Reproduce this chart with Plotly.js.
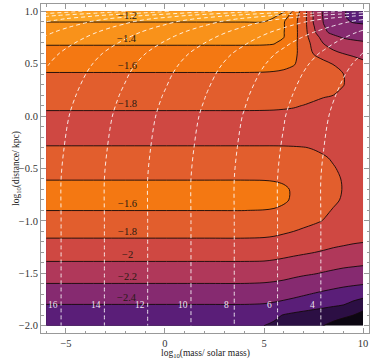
<!DOCTYPE html>
<html><head><meta charset="utf-8">
<script src="https://cdn.plot.ly/plotly-3.0.1.min.js"></script>
<style>html,body{margin:0;padding:0;background:#fff}#chart{width:374px;height:362px}</style>
</head><body><div id="chart"></div>
<script>
// log10(mass / solar mass) columns of the shaded field
const massLog = [-6, -2, 2, 4, 5, 5.5, 6, 6.5, 7, 7.5, 8, 8.5, 9, 9.5, 10];
// log10(distance / kpc) rows of the shaded field
const distLog = [-2.0, -1.9, -1.8, -1.7, -1.6, -1.5, -1.4, -1.3, -1.2, -1.1, -1.0, -0.9, -0.8, -0.7, -0.6, -0.5, -0.4, -0.3, -0.2, -0.1, 0.0, 0.1, 0.2, 0.3, 0.4, 0.5, 0.6, 0.7, 0.75, 0.8, 0.85, 0.9, 0.95, 1.0];
// shaded field values, one row per distLog entry
const fieldRows = [
  [-2.58,-2.58,-2.58,-2.58,-2.60,-2.63,-2.66,-2.69,-2.72,-2.76,-2.80,-2.84,-2.88,-2.93,-2.98],
  [-2.50,-2.50,-2.50,-2.50,-2.52,-2.56,-2.61,-2.64,-2.665,-2.69,-2.715,-2.745,-2.77,-2.80,-2.86],
  [-2.403,-2.403,-2.403,-2.403,-2.41,-2.425,-2.445,-2.47,-2.495,-2.52,-2.545,-2.57,-2.595,-2.65,-2.71],
  [-2.30,-2.30,-2.30,-2.30,-2.31,-2.32,-2.34,-2.36,-2.385,-2.41,-2.435,-2.46,-2.485,-2.51,-2.53],
  [-2.203,-2.203,-2.203,-2.203,-2.21,-2.22,-2.235,-2.26,-2.28,-2.30,-2.32,-2.34,-2.36,-2.375,-2.39],
  [-2.105,-2.105,-2.105,-2.105,-2.11,-2.12,-2.135,-2.155,-2.175,-2.19,-2.21,-2.23,-2.25,-2.265,-2.28],
  [-2.012,-2.012,-2.012,-2.012,-2.015,-2.025,-2.04,-2.06,-2.08,-2.10,-2.12,-2.135,-2.15,-2.16,-2.17],
  [-1.92,-1.92,-1.92,-1.92,-1.925,-1.935,-1.95,-1.965,-1.98,-1.997,-2.015,-2.035,-2.05,-2.065,-2.08],
  [-1.83,-1.83,-1.83,-1.83,-1.835,-1.845,-1.86,-1.875,-1.895,-1.915,-1.935,-1.955,-1.97,-1.985,-1.995],
  [-1.745,-1.745,-1.745,-1.745,-1.75,-1.76,-1.78,-1.80,-1.825,-1.85,-1.875,-1.90,-1.92,-1.94,-1.96],
  [-1.67,-1.67,-1.67,-1.67,-1.675,-1.685,-1.70,-1.725,-1.75,-1.775,-1.805,-1.84,-1.87,-1.895,-1.92],
  [-1.599,-1.599,-1.599,-1.599,-1.605,-1.615,-1.635,-1.665,-1.695,-1.73,-1.77,-1.81,-1.84,-1.87,-1.89],
  [-1.51,-1.51,-1.51,-1.51,-1.515,-1.535,-1.575,-1.625,-1.665,-1.70,-1.735,-1.775,-1.815,-1.85,-1.875],
  [-1.52,-1.52,-1.52,-1.52,-1.525,-1.54,-1.575,-1.62,-1.66,-1.695,-1.73,-1.77,-1.805,-1.845,-1.87],
  [-1.61,-1.61,-1.61,-1.61,-1.612,-1.618,-1.627,-1.64,-1.66,-1.69,-1.725,-1.77,-1.81,-1.845,-1.87],
  [-1.64,-1.64,-1.64,-1.64,-1.641,-1.645,-1.652,-1.665,-1.685,-1.715,-1.75,-1.79,-1.825,-1.85,-1.87],
  [-1.71,-1.71,-1.71,-1.71,-1.71,-1.712,-1.716,-1.725,-1.74,-1.76,-1.785,-1.815,-1.84,-1.86,-1.875],
  [-1.78,-1.78,-1.78,-1.78,-1.78,-1.78,-1.782,-1.787,-1.795,-1.81,-1.83,-1.85,-1.865,-1.875,-1.88],
  [-1.90,-1.90,-1.90,-1.90,-1.90,-1.90,-1.90,-1.90,-1.90,-1.898,-1.895,-1.892,-1.89,-1.887,-1.885],
  [-1.92,-1.92,-1.92,-1.92,-1.92,-1.92,-1.92,-1.918,-1.915,-1.91,-1.905,-1.90,-1.895,-1.892,-1.89],
  [-1.83,-1.83,-1.83,-1.83,-1.83,-1.83,-1.832,-1.835,-1.84,-1.85,-1.86,-1.87,-1.88,-1.885,-1.89],
  [-1.773,-1.773,-1.773,-1.773,-1.775,-1.778,-1.783,-1.79,-1.803,-1.82,-1.84,-1.855,-1.87,-1.885,-1.895],
  [-1.719,-1.719,-1.719,-1.719,-1.72,-1.722,-1.726,-1.735,-1.75,-1.77,-1.787,-1.80,-1.83,-1.87,-1.90],
  [-1.666,-1.666,-1.666,-1.666,-1.667,-1.67,-1.675,-1.685,-1.70,-1.72,-1.745,-1.77,-1.795,-1.85,-1.91],
  [-1.612,-1.612,-1.612,-1.612,-1.615,-1.62,-1.63,-1.645,-1.67,-1.70,-1.73,-1.765,-1.797,-1.86,-1.93],
  [-1.539,-1.539,-1.539,-1.539,-1.54,-1.545,-1.56,-1.59,-1.65,-1.70,-1.75,-1.805,-1.87,-1.93,-1.97],
  [-1.461,-1.461,-1.461,-1.461,-1.462,-1.47,-1.49,-1.55,-1.69,-1.81,-1.89,-1.96,-2.005,-2.03,-2.05],
  [-1.381,-1.381,-1.381,-1.381,-1.383,-1.39,-1.434,-1.55,-1.693,-1.859,-2.01,-2.09,-2.135,-2.16,-2.18],
  [-1.336,-1.336,-1.336,-1.336,-1.345,-1.37,-1.40,-1.54,-1.702,-1.912,-2.06,-2.155,-2.21,-2.235,-2.25],
  [-1.29,-1.29,-1.29,-1.29,-1.30,-1.34,-1.395,-1.533,-1.712,-1.956,-2.168,-2.24,-2.27,-2.29,-2.31],
  [-1.244,-1.244,-1.244,-1.244,-1.26,-1.32,-1.39,-1.533,-1.717,-1.982,-2.188,-2.26,-2.31,-2.35,-2.37],
  [-1.198,-1.198,-1.198,-1.198,-1.20,-1.29,-1.39,-1.533,-1.717,-2.012,-2.206,-2.29,-2.37,-2.41,-2.42],
  [-1.15,-1.15,-1.15,-1.15,-1.155,-1.175,-1.314,-1.513,-1.715,-2.014,-2.217,-2.30,-2.39,-2.43,-2.46],
  [-1.10,-1.10,-1.10,-1.10,-1.11,-1.13,-1.18,-1.444,-1.70,-2.044,-2.224,-2.30,-2.384,-2.445,-2.50]
];
// dashed (white) field
const dashMass = [-6, -4, -2, 0, 2, 4, 6, 8, 10];
const dashDist = [-2.0, -1.0, -0.6, -0.3, 0.0, 0.2, 0.4, 0.5, 0.6, 0.7, 0.75, 0.8, 0.85, 0.9, 0.93, 0.96, 1.0];
const dashRows = [
  [16.69,14.86,13.03,11.2,9.37,7.54,5.71,3.88,2.05],
  [16.69,14.86,13.03,11.2,9.37,7.54,5.71,3.88,2.05],
  [16.69,14.86,13.03,11.2,9.37,7.54,5.71,3.88,2.05],
  [16.83,15.0,13.17,11.34,9.51,7.68,5.85,4.02,2.19],
  [17.06,15.23,13.4,11.57,9.74,7.91,6.08,4.25,2.42],
  [17.38,15.55,13.72,11.89,10.06,8.23,6.4,4.57,2.74],
  [17.83,16.0,14.17,12.34,10.51,8.68,6.85,5.02,3.19],
  [18.15,16.32,14.49,12.66,10.83,9.0,7.17,5.34,3.51],
  [18.61,16.78,14.95,13.12,11.29,9.46,7.63,5.8,3.97],
  [19.34,17.51,15.68,13.85,12.02,10.19,8.36,6.53,4.7],
  [19.8,17.97,16.14,14.31,12.48,10.65,8.82,6.99,5.16],
  [20.35,18.52,16.69,14.86,13.03,11.2,9.37,7.54,5.71],
  [21.08,19.25,17.42,15.59,13.76,11.93,10.1,8.27,6.44],
  [22.0,20.17,18.34,16.51,14.68,12.85,11.02,9.19,7.36],
  [22.91,21.08,19.25,17.42,15.59,13.76,11.93,10.1,8.27],
  [24.47,22.64,20.81,18.98,17.15,15.32,13.49,11.66,9.83],
  [27.67,25.84,24.01,22.18,20.35,18.52,16.69,14.86,13.03]
];
// labelled shaded-field contours: [level, which crossing along the left column]
const fieldLabelLevels = [-1.2, -1.4, -1.6, -1.8, -1.6, -1.8, -2, -2.2, -2.4];
const fieldLabelSide   = ['top','top','top','top','bottom','bottom','bottom','bottom','bottom'];
const dashLabelLevels = [16, 14, 12, 10, 8, 6, 4];
const yTickLabels = ['1.0','0.5','0.0','\u22120.5','\u22121.0','\u22121.5','\u22122.0'];
const yTickVals = [1, 0.5, 0, -0.5, -1, -1.5, -2];
const xTickLabels = ['\u22125','0','5','10'];
const xTickVals = [-5, 0, 5, 10];

const bandColors = ['#0c0612','#2c0f44','#5a1e78','#862a70','#b0385a','#cf4842','#e25e2d','#f47812','#f9921a','#fda627'];
const colorscale = bandColors.map((c, i) => [i / (bandColors.length - 1), c]);
const serif = 'Liberation Serif, Times New Roman, serif';

function crossingY(level, side) {
  const col = fieldRows.map(r => r[1]);
  const n = distLog.length;
  if (side === 'top') {
    for (let j = n - 1; j > 0; j--) {
      const a = col[j], b = col[j - 1];
      if ((a - level) * (b - level) <= 0 && a !== b) return distLog[j] + (level - a) / (b - a) * (distLog[j - 1] - distLog[j]);
    }
  } else {
    for (let j = 0; j < n - 1; j++) {
      const a = col[j], b = col[j + 1];
      if ((a - level) * (b - level) <= 0 && a !== b) return distLog[j] + (level - a) / (b - a) * (distLog[j + 1] - distLog[j]);
    }
  }
  return null;
}
function crossingX(level) {
  const row = dashRows[0];
  for (let i = 0; i < row.length - 1; i++) {
    const a = row[i], b = row[i + 1];
    if ((a - level) * (b - level) <= 0 && a !== b) return dashMass[i] + (level - a) / (b - a) * (dashMass[i + 1] - dashMass[i]);
  }
  return null;
}

const annotations = [];
fieldLabelLevels.forEach((lv, k) => {
  const yc = crossingY(lv, fieldLabelSide[k]);
  annotations.push({x: -1.9, y: yc, xref: 'x', yref: 'y', yshift: 7, showarrow: false,
    text: String(lv).replace('-', '\u2212'), font: {family: serif, size: 10.5, color: '#2a1a12'}});
});
dashLabelLevels.forEach(lv => {
  const xc = crossingX(lv);
  annotations.push({x: xc, y: -1.8, xref: 'x', yref: 'y', xshift: -8, showarrow: false,
    text: String(lv), font: {family: serif, size: 9.5, color: 'rgba(255,255,255,0.9)'}});
});
annotations.push({xref: 'paper', yref: 'paper', x: -0.0976, y: 0.5, textangle: -90, showarrow: false,
  text: 'log<sub>10</sub>(distance/ kpc)', font: {family: serif, size: 9.5, color: '#222'}});
annotations.push({xref: 'paper', yref: 'paper', x: 0.5, y: -0.061, yanchor: 'middle', showarrow: false,
  text: 'log<sub>10</sub>(mass/ solar mass)', font: {family: serif, size: 9.5, color: '#222'}});

const traces = [
  {type: 'contour', x: massLog, y: distLog, z: fieldRows,
   contours: {start: -2.8, end: -1.2, size: 0.2, coloring: 'fill', showlines: true},
   line: {color: 'rgba(20,10,10,0.9)', width: 1, smoothing: 0.9},
   colorscale: colorscale, showscale: false, hoverinfo: 'skip'},
  {type: 'contour', x: dashMass, y: dashDist, z: dashRows,
   contours: {start: 4, end: 26, size: 2, coloring: 'none'},
   line: {color: 'rgba(255,255,255,0.85)', width: 1, dash: '4px,3px', smoothing: 0.9},
   showscale: false, hoverinfo: 'skip'}
];

const axisCommon = {
  ticks: 'inside', ticklen: 5, tickcolor: '#999', tickwidth: 1,
  showline: true, linecolor: '#999', linewidth: 1, mirror: 'allticks',
  showgrid: false, zeroline: false,
  tickfont: {family: serif, size: 10.5, color: '#333'}
};
const layout = {
  width: 374, height: 362,
  margin: {l: 41, r: 5, t: 4, b: 29},
  paper_bgcolor: '#fff', plot_bgcolor: '#fff',
  showlegend: false,
  xaxis: Object.assign({}, axisCommon, {range: [-6.26, 10.3], tickmode: 'array', tickvals: xTickVals, ticktext: xTickLabels,
    minor: {dtick: 1, tick0: 0, ticks: 'inside', ticklen: 2.5, tickcolor: '#999', showgrid: false}}),
  yaxis: Object.assign({}, axisCommon, {range: [-2.07, 1.07], tickmode: 'array', tickvals: yTickVals, ticktext: yTickLabels,
    minor: {dtick: 0.1, tick0: 0, ticks: 'inside', ticklen: 2.5, tickcolor: '#999', showgrid: false}}),
  annotations: annotations
};
Plotly.newPlot('chart', traces, layout, {displayModeBar: false, staticPlot: true});
</script>
</body></html>
